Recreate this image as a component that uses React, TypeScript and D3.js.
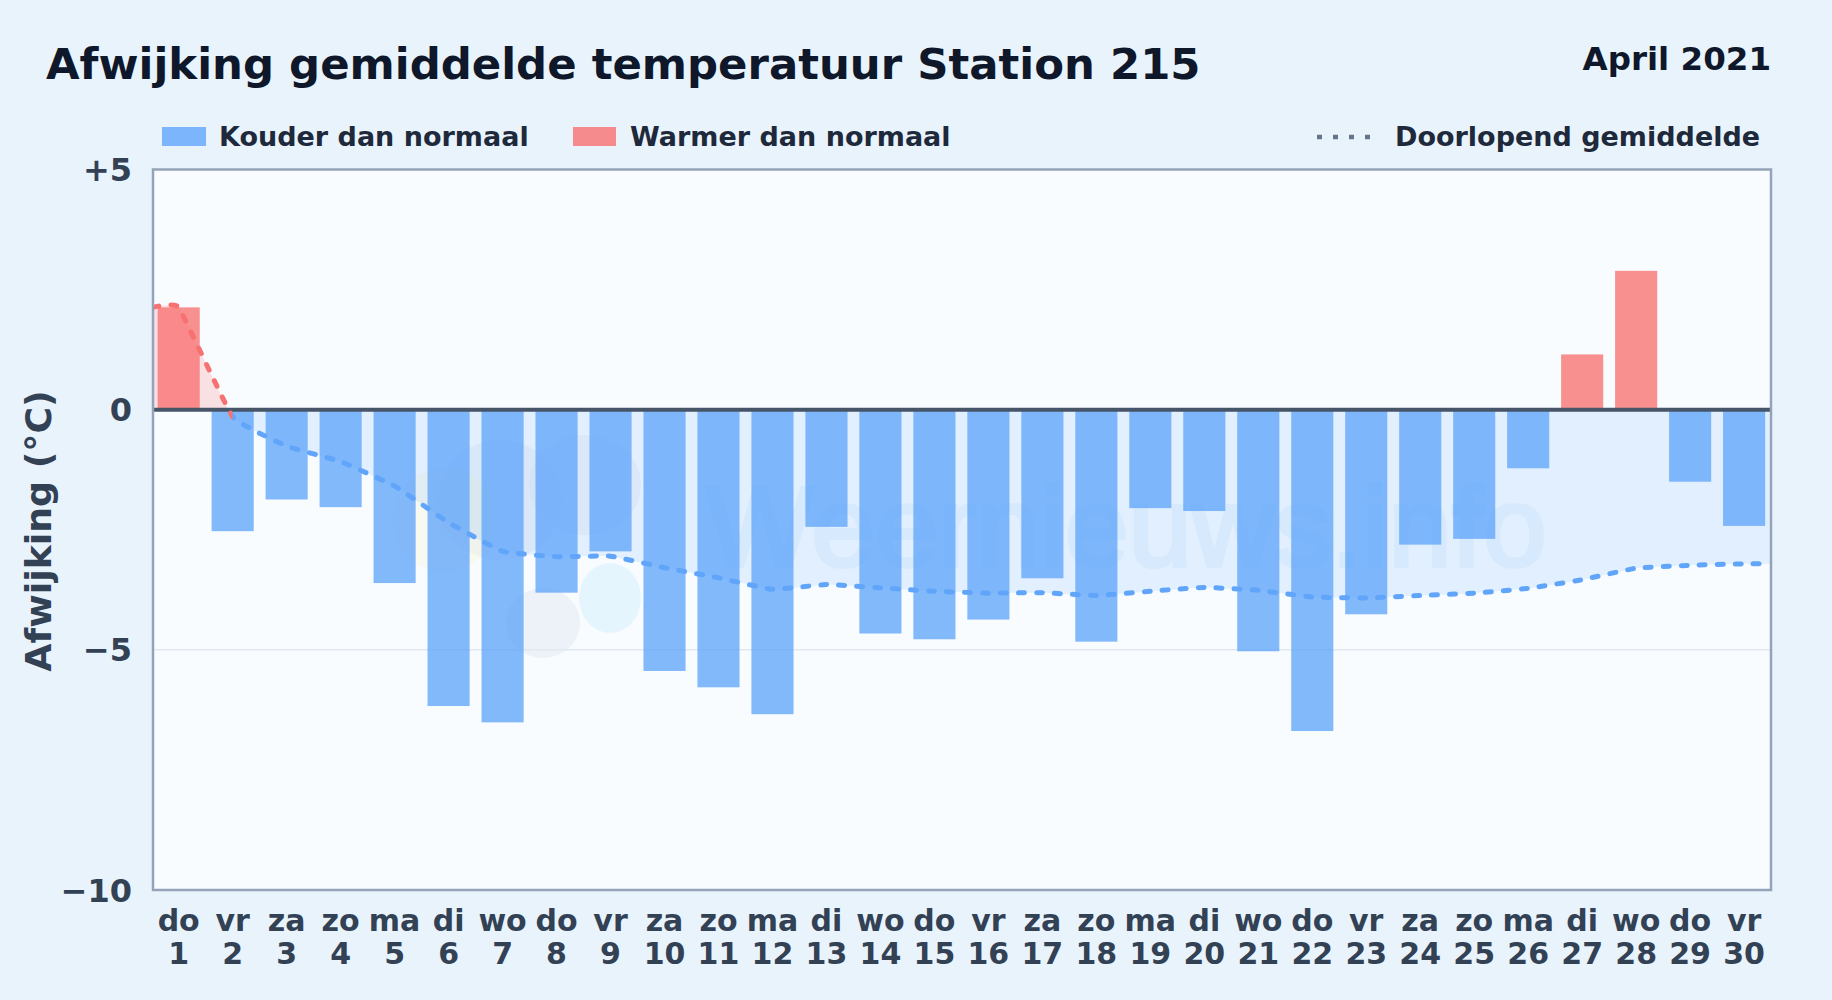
import * as d3 from "d3";

const weekdays = ["do","vr","za","zo","ma","di","wo","do","vr","za","zo","ma","di","wo","do","vr","za","zo","ma","di","wo","do","vr","za","zo","ma","di","wo","do","vr"];
const days = ["1","2","3","4","5","6","7","8","9","10","11","12","13","14","15","16","17","18","19","20","21","22","23","24","25","26","27","28","29","30"];
const deviation = [2.13,-2.53,-1.87,-2.03,-3.61,-6.17,-6.51,-3.81,-2.95,-5.44,-5.78,-6.34,-2.44,-4.66,-4.78,-4.37,-3.51,-4.83,-2.05,-2.11,-5.03,-6.69,-4.26,-2.81,-2.69,-1.22,1.15,2.89,-1.5,-2.42];
const runningMean = [2.13,-0.15,-0.76,-1.08,-1.59,-2.35,-2.95,-3.06,-3.05,-3.29,-3.5,-3.74,-3.64,-3.71,-3.78,-3.82,-3.81,-3.87,-3.78,-3.7,-3.76,-3.9,-3.92,-3.87,-3.82,-3.72,-3.54,-3.3,-3.24,-3.21];
const yTicks = [5, 0, -5, -10];
const yTickLabels = ["+5", "0", "−5", "−10"];

const width = 1832;
const height = 1000;
const plot = { left: 153, right: 1771, top: 169.5, bottom: 890 };
const font = "'DejaVu Sans', sans-serif";

export default function App() {
  document.body.style.margin = "0";
  const x = d3
    .scaleBand<string>()
    .domain(days)
    .range([151.7, 1771.1])
    .paddingInner(0.22)
    .paddingOuter(0.11);
  const y = d3.scaleLinear([5, -10], [plot.top, plot.bottom]);
  const cx = (i: number) => x(days[i])! + x.bandwidth() / 2;

  // running mean runs on flat to both plot edges
  const linePts: [number, number][] = [
    [plot.left, y(runningMean[0])],
    ...runningMean.map((v, i): [number, number] => [cx(i), y(v)]),
    [plot.right, y(runningMean[runningMean.length - 1])],
  ];
  const curve = d3.curveCardinal.tension(0.7);
  const linePath = d3.line().curve(curve)(linePts)!;
  const areaPath = d3
    .area()
    .curve(curve)
    .y0(y(0))
    .y1((d) => d[1])(linePts)!;

  return (
    <svg
      width={width}
      height={height}
      viewBox={`0 0 ${width} ${height}`}
      style={{ position: "absolute", left: 0, top: 0, display: "block", fontFamily: font }}
    >
      <defs>
        <clipPath id="above">
          <rect x={plot.left} y={plot.top} width={plot.right - plot.left} height={y(0) - plot.top} />
        </clipPath>
        <clipPath id="below">
          <rect x={plot.left} y={y(0)} width={plot.right - plot.left} height={plot.bottom - y(0)} />
        </clipPath>
        <clipPath id="warm-line">
          <rect x={plot.left} y={plot.top} width={cx(1) - plot.left} height={plot.bottom - plot.top} />
        </clipPath>
        <clipPath id="cold-line">
          <rect x={cx(1)} y={plot.top} width={plot.right - cx(1)} height={plot.bottom - plot.top} />
        </clipPath>
      </defs>
      <rect width={width} height={height} fill="#e8f3fc" />

      <text x={46} y={79} fontSize={43.4} fontWeight={700} fill="#0f172a">
        Afwijking gemiddelde temperatuur Station 215
      </text>
      <text x={1771} y={70} fontSize={32.5} fontWeight={700} fill="#0f172a" textAnchor="end">
        April 2021
      </text>

      <rect x={162} y={127} width={44} height={19} fill="#60a5fa" opacity={0.8} />
      <text x={219} y={146} fontSize={27} fontWeight={700} fill="#1e293b">
        Kouder dan normaal
      </text>
      <rect x={573} y={127} width={43} height={19} fill="#f87171" opacity={0.8} />
      <text x={630} y={146} fontSize={27} fontWeight={700} fill="#1e293b">
        Warmer dan normaal
      </text>
      <line x1={1317} x2={1374} y1={137} y2={137} stroke="#64748b" strokeWidth={4.5} strokeDasharray="5 11" />
      <text x={1395} y={146} fontSize={27} fontWeight={700} fill="#1e293b">
        Doorlopend gemiddelde
      </text>

      <rect x={plot.left} y={plot.top} width={plot.right - plot.left} height={plot.bottom - plot.top} fill="#f8fcff" />

      {/* watermark */}
      <g>
        <circle cx={445} cy={520} r={52} fill="#fde68a" opacity={0.12} />
        <ellipse cx={500} cy={500} rx={62} ry={60} fill="#cbd5e1" opacity={0.2} />
        <ellipse cx={585} cy={485} rx={56} ry={50} fill="#cbd5e1" opacity={0.18} />
        <ellipse cx={543} cy={623} rx={37} ry={35} fill="#cbd5e1" opacity={0.27} />
        <ellipse cx={610} cy={598} rx={31} ry={35} fill="#bae6fd" opacity={0.3} />
        <text
          x={706}
          y={566}
          fontSize={114}
          fontFamily="'Liberation Sans', sans-serif"
          fill="#93c5fd"
          stroke="#93c5fd"
          strokeWidth={4}
          opacity={0.11}
        >
          Weernieuws.info
        </text>
      </g>

      <path d={areaPath} fill="#60a5fa" opacity={0.15} clipPath="url(#below)" />
      <path d={areaPath} fill="#f87171" opacity={0.2} clipPath="url(#above)" />

      <line x1={plot.left} x2={plot.right} y1={y(-5)} y2={y(-5)} stroke="#e2e8f0" strokeWidth={1.5} />

      {deviation.map((v, i) => (
        <rect
          key={i}
          x={x(days[i])}
          y={Math.min(y(v), y(0))}
          width={x.bandwidth()}
          height={Math.abs(y(v) - y(0))}
          fill={v >= 0 ? "#f87171" : "#60a5fa"}
          opacity={0.78}
        />
      ))}

      <line x1={plot.left} x2={plot.right} y1={y(0)} y2={y(0)} stroke="#475569" strokeWidth={4} />

      <path d={linePath} fill="none" stroke="#f87171" strokeWidth={5} strokeDasharray="6 12" strokeLinecap="round" clipPath="url(#warm-line)" />
      <path d={linePath} fill="none" stroke="#60a5fa" strokeWidth={5} strokeDasharray="6 12" strokeLinecap="round" clipPath="url(#cold-line)" />

      <rect x={plot.left} y={plot.top} width={plot.right - plot.left} height={plot.bottom - plot.top} fill="none" stroke="#94a3b8" strokeWidth={2.5} />

      {yTicks.map((t, i) => (
        <text key={t} x={132} y={y(t) + 11.5} textAnchor="end" fontSize={32} fontWeight={700} fill="#334155">
          {yTickLabels[i]}
        </text>
      ))}
      {days.map((d, i) => (
        <g key={d} textAnchor="middle" fontSize={30} fontWeight={700} fill="#334155">
          <text x={cx(i)} y={931}>{weekdays[i]}</text>
          <text x={cx(i)} y={964}>{d}</text>
        </g>
      ))}
      <text
        transform={`translate(51 531) rotate(-90)`}
        textAnchor="middle"
        fontSize={36.3}
        fontWeight={700}
        fill="#334155"
      >
        Afwijking (°C)
      </text>
    </svg>
  );
}
